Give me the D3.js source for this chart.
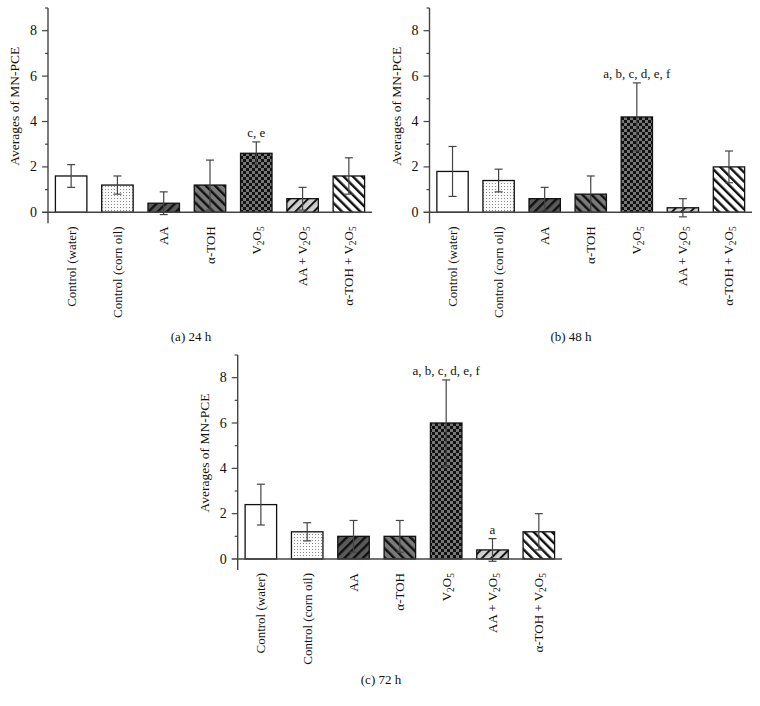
<!DOCTYPE html>
<html><head><meta charset="utf-8">
<script src="https://cdn.jsdelivr.net/npm/d3@7"></script>
<style>body{margin:0;background:#fff}svg{display:block}text{font-family:"Liberation Serif","Times New Roman",serif;fill:#111}</style>
</head><body>
<svg id="c" width="760" height="706"></svg>
<script>
// ---- data ----
const categories = ["Control (water)","Control (corn oil)","AA","α-TOH","V2O5","AA + V2O5","α-TOH + V2O5"];
const means24 = [1.6, 1.2, 0.4, 1.2, 2.6, 0.6, 1.6];
const errs24  = [0.5, 0.4, 0.5, 1.1, 0.5, 0.5, 0.8];
const means48 = [1.8, 1.4, 0.6, 0.8, 4.2, 0.2, 2.0];
const errs48  = [1.1, 0.5, 0.5, 0.8, 1.5, 0.4, 0.7];
const means72 = [2.4, 1.2, 1.0, 1.0, 6.0, 0.4, 1.2];
const errs72  = [0.9, 0.4, 0.7, 0.7, 1.9, 0.5, 0.8];
const notes24 = ["", "", "", "", "c, e", "", ""];
const notes48 = ["", "", "", "", "a, b, c, d, e, f", "", ""];
const notes72 = ["", "", "", "", "a, b, c, d, e, f", "a", ""];
const majorTicks = [0, 2, 4, 6, 8];
const minorTicks = [1, 3, 5, 7, 9];
const yMax = 9;
const captions = ["(a)  24 h", "(b)  48 h", "(c)  72 h"];
const yTitle = "Averages of MN-PCE";

const svg = d3.select("#c");
const defs = svg.append("defs");

// patterns
function stripe(id, bg, dir, sw, gap) {
  const p = defs.append("pattern").attr("id", id).attr("patternUnits", "userSpaceOnUse")
    .attr("width", gap).attr("height", gap)
    .attr("patternTransform", `rotate(${dir})`);
  p.append("rect").attr("width", gap).attr("height", gap).attr("fill", bg);
  p.append("rect").attr("x", 0).attr("width", sw).attr("height", gap).attr("fill", "#111");
}
{
  const p = defs.append("pattern").attr("id", "dots").attr("patternUnits", "userSpaceOnUse").attr("width", 3).attr("height", 3);
  p.append("rect").attr("width", 3).attr("height", 3).attr("fill", "#fafafa");
  p.append("rect").attr("width", 1).attr("height", 1).attr("fill", "#888");
}
stripe("aa", "#5a5a5a", 45, 2.4, 6.5);
stripe("toh", "#7a7a7a", -45, 2.4, 6.5);
stripe("aav", "#cfcfcf", 45, 2, 6.5);
stripe("tohv", "#ffffff", -45, 2.4, 6.5);
{
  const p = defs.append("pattern").attr("id", "check").attr("patternUnits", "userSpaceOnUse").attr("width", 6).attr("height", 6);
  p.append("rect").attr("width", 6).attr("height", 6).attr("fill", "#777");
  p.append("rect").attr("width", 3).attr("height", 3).attr("fill", "#111");
  p.append("rect").attr("x", 3).attr("y", 3).attr("width", 3).attr("height", 3).attr("fill", "#111");
}
const fills = ["#fff", "url(#dots)", "url(#aa)", "url(#toh)", "url(#check)", "url(#aav)", "url(#tohv)"];

function addLabel(sel, label) {
  const parts = label.split(/(V2O5)/);
  parts.forEach(pt => {
    if (pt === "V2O5") {
      sel.append("tspan").text("V");
      sel.append("tspan").attr("dy", 3).attr("font-size", 9.5).text("2");
      sel.append("tspan").attr("dy", -3).text("O");
      sel.append("tspan").attr("dy", 3).attr("font-size", 9.5).text("5");
      sel.append("tspan").attr("dy", -3).text("");
    } else if (pt.length) {
      sel.append("tspan").text(pt);
    }
  });
}

function panel(cfg) {
  const {ax, right, y0, yTop, means, errs, notes, caption, capX, capY} = cfg;
  const g = svg.append("g");
  const x = d3.scaleBand().domain(categories).range([ax, right]).paddingInner(0.32).paddingOuter(0.16);
  const y = d3.scaleLinear().domain([0, yMax]).range([y0, yTop]);

  g.selectAll("rect.bar").data(categories).join("rect")
    .attr("x", d => x(d)).attr("width", x.bandwidth())
    .attr("y", (d, i) => y(means[i])).attr("height", (d, i) => y(0) - y(means[i]))
    .attr("fill", (d, i) => fills[i]).attr("stroke", "#111").attr("stroke-width", 1.3);

  categories.forEach((c, i) => {
    const cx = x(c) + x.bandwidth() / 2;
    const hi = y(means[i] + errs[i]), lo = y(means[i] - errs[i]);
    g.append("line").attr("x1", cx).attr("x2", cx).attr("y1", hi).attr("y2", lo).attr("stroke", "#444").attr("stroke-width", 1.2);
    [hi, lo].forEach(v => g.append("line").attr("x1", cx - 4).attr("x2", cx + 4).attr("y1", v).attr("y2", v).attr("stroke", "#444").attr("stroke-width", 1.2));
    if (notes[i]) {
      g.append("text").attr("x", cx).attr("y", hi - 5).attr("text-anchor", "middle").attr("font-size", 13).text(notes[i]);
    }
    const t = g.append("text").attr("text-anchor", "end").attr("font-size", 13)
      .attr("transform", `translate(${cx + 4.5},${y0 + 14}) rotate(-90)`);
    addLabel(t, c);
  });

  g.append("line").attr("x1", ax).attr("x2", ax).attr("y1", yTop).attr("y2", y0 + 11).attr("stroke", "#444").attr("stroke-width", 1.4);
  g.append("line").attr("x1", ax - 6).attr("x2", right).attr("y1", y0).attr("y2", y0).attr("stroke", "#444").attr("stroke-width", 1.4);
  majorTicks.forEach(v => {
    if (v !== 0) g.append("line").attr("x1", ax - 6).attr("x2", ax).attr("y1", y(v)).attr("y2", y(v)).attr("stroke", "#444").attr("stroke-width", 1.2);
    g.append("text").attr("x", ax - 11).attr("y", y(v) + 4.5).attr("text-anchor", "end").attr("font-size", 14).text(v);
  });
  minorTicks.forEach(v => {
    g.append("line").attr("x1", ax - 3).attr("x2", ax).attr("y1", y(v)).attr("y2", y(v)).attr("stroke", "#444").attr("stroke-width", 1.2);
  });
  g.append("text").attr("font-size", 13.5).attr("text-anchor", "middle")
    .attr("transform", `translate(${ax - 29},${(y0 + yTop) / 2 - 4}) rotate(-90)`).text(yTitle);
  g.append("text").attr("x", capX).attr("y", capY).attr("text-anchor", "middle").attr("font-size", 13).text(caption);
}

panel({ax: 48, right: 372, y0: 212.3, yTop: 8, means: means24, errs: errs24, notes: notes24, caption: captions[0], capX: 191, capY: 341});
panel({ax: 429.5, right: 752, y0: 212.3, yTop: 8, means: means48, errs: errs48, notes: notes48, caption: captions[1], capX: 571, capY: 341});
panel({ax: 237.7, right: 562, y0: 559, yTop: 355, means: means72, errs: errs72, notes: notes72, caption: captions[2], capX: 381, capY: 684});
</script>
</body></html>
